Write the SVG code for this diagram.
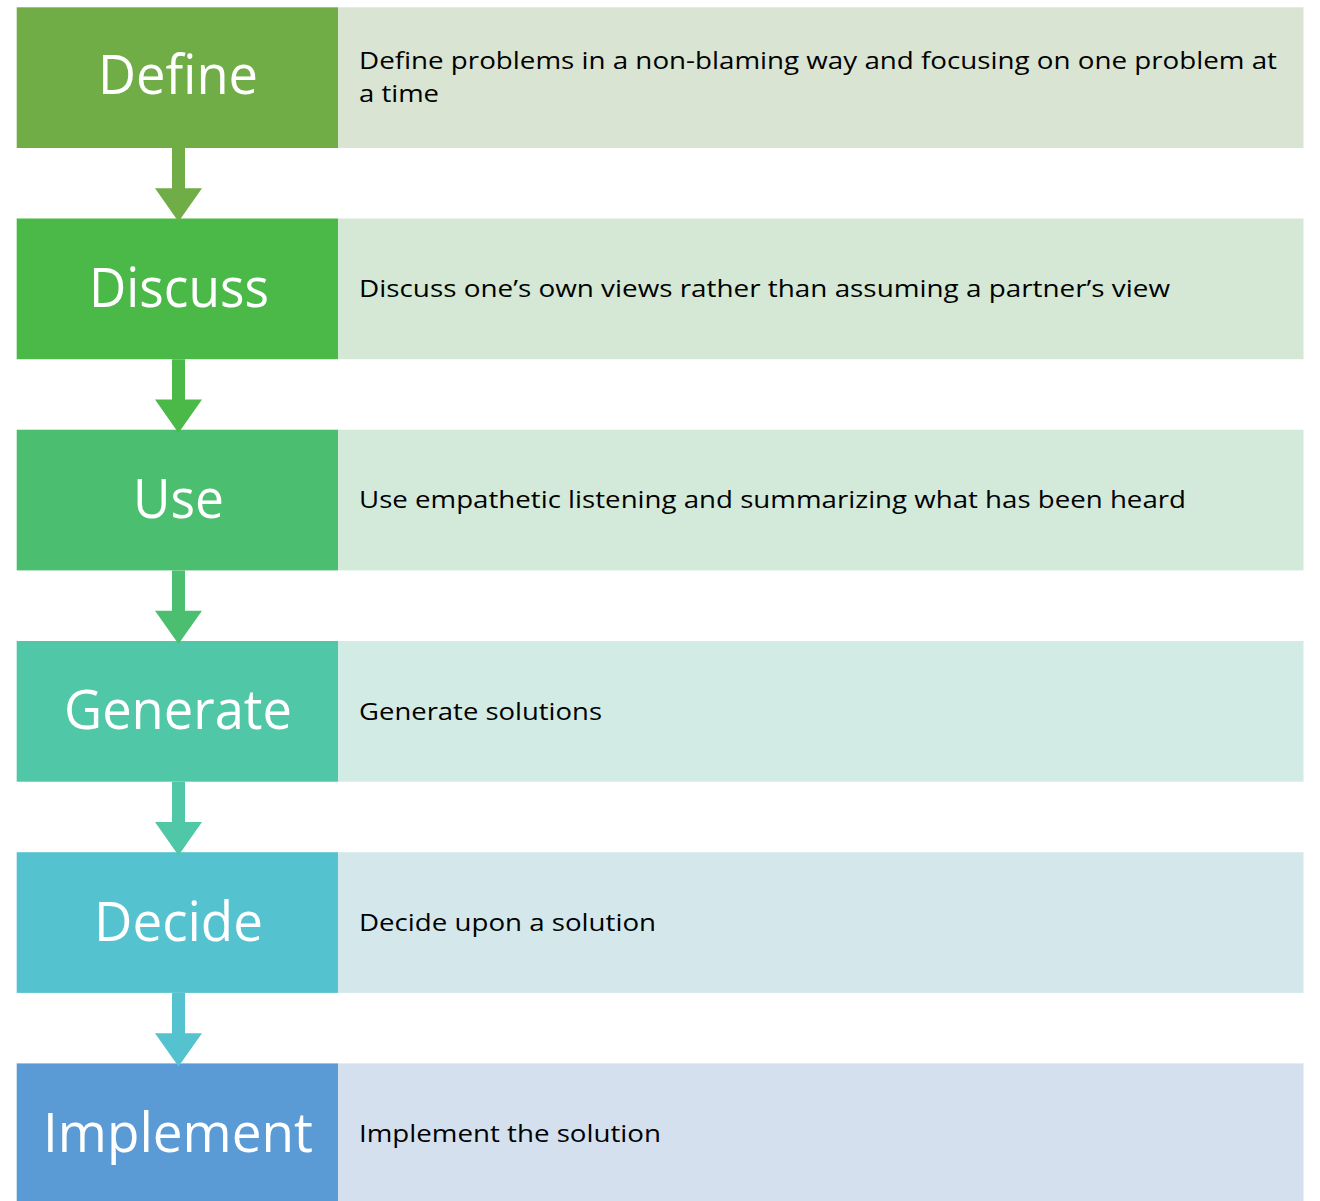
<svg xmlns="http://www.w3.org/2000/svg" width="1320" height="1201" viewBox="0 0 1320 1201">
  <style>
    .step { font-family: "Open Sans", "Noto Sans", sans-serif; font-size: 54px; fill: #ffffff; text-anchor: middle; }
    .desc { font-family: "Open Sans", "Noto Sans", sans-serif; font-size: 23.5px; fill: #000000; }
  </style>
  <rect x="0" y="0" width="1320" height="1201" fill="#ffffff"/>

  <!-- Step rows: coloured title box on the left, tinted description panel on the right -->
  <g id="define">
    <rect x="338" y="7.3" width="965.5" height="140.7" fill="#D9E4D3"/>
    <rect x="16.7" y="7.3" width="321.3" height="140.7" fill="#70AD47"/>
    <text class="step" x="178" y="94.3" textLength="160" lengthAdjust="spacingAndGlyphs">Define</text>
    <text class="desc" x="359" y="68.5" textLength="918" lengthAdjust="spacingAndGlyphs">Define problems in a non-blaming way and focusing on one problem at</text>
    <text class="desc" x="359" y="102" textLength="80" lengthAdjust="spacingAndGlyphs">a time</text>
  </g>

  <g id="discuss">
    <rect x="338" y="218.5" width="965.5" height="140.7" fill="#D4E8D5"/>
    <rect x="16.7" y="218.5" width="321.3" height="140.7" fill="#4AB947"/>
    <text class="step" x="179" y="307" textLength="180" lengthAdjust="spacingAndGlyphs">Discuss</text>
    <text class="desc" x="359" y="296.7" textLength="811" lengthAdjust="spacingAndGlyphs">Discuss one’s own views rather than assuming a partner’s view</text>
  </g>

  <g id="use">
    <rect x="338" y="429.7" width="965.5" height="140.7" fill="#D3EADB"/>
    <rect x="16.7" y="429.7" width="321.3" height="140.7" fill="#4BBF6F"/>
    <text class="step" x="178.5" y="518" textLength="91" lengthAdjust="spacingAndGlyphs">Use</text>
    <text class="desc" x="359" y="508" textLength="827" lengthAdjust="spacingAndGlyphs">Use empathetic listening and summarizing what has been heard</text>
  </g>

  <g id="generate">
    <rect x="338" y="641" width="965.5" height="140.7" fill="#D3EBE5"/>
    <rect x="16.7" y="641" width="321.3" height="140.7" fill="#50C7A7"/>
    <text class="step" x="178" y="729.3" textLength="228" lengthAdjust="spacingAndGlyphs">Generate</text>
    <text class="desc" x="359" y="719.5" textLength="243" lengthAdjust="spacingAndGlyphs">Generate solutions</text>
  </g>

  <g id="decide">
    <rect x="338" y="852.2" width="965.5" height="140.7" fill="#D4E8EC"/>
    <rect x="16.7" y="852.2" width="321.3" height="140.7" fill="#55C2CF"/>
    <text class="step" x="178.5" y="940.5" textLength="169" lengthAdjust="spacingAndGlyphs">Decide</text>
    <text class="desc" x="359" y="930.7" textLength="297" lengthAdjust="spacingAndGlyphs">Decide upon a solution</text>
  </g>

  <g id="implement">
    <rect x="338" y="1063.4" width="965.5" height="140" fill="#D4E0EE"/>
    <rect x="16.7" y="1063.4" width="321.3" height="140" fill="#5B9BD5"/>
    <text class="step" x="178" y="1151.7" textLength="270" lengthAdjust="spacingAndGlyphs">Implement</text>
    <text class="desc" x="359" y="1142" textLength="302" lengthAdjust="spacingAndGlyphs">Implement the solution</text>
  </g>

  <!-- Down arrows linking each step to the next, coloured like the step above -->
  <g id="connectors">
    <path d="M172 148 H185 V188.3 H202 L178.5 221.7 L155 188.3 H172 Z" fill="#70AD47"/>
    <path d="M172 359.2 H185 V399.5 H202 L178.5 432.9 L155 399.5 H172 Z" fill="#4AB947"/>
    <path d="M172 570.4 H185 V610.7 H202 L178.5 644.1 L155 610.7 H172 Z" fill="#4BBF6F"/>
    <path d="M172 781.7 H185 V822 H202 L178.5 855.4 L155 822 H172 Z" fill="#50C7A7"/>
    <path d="M172 992.9 H185 V1033.2 H202 L178.5 1066.6 L155 1033.2 H172 Z" fill="#55C2CF"/>
  </g>
</svg>
